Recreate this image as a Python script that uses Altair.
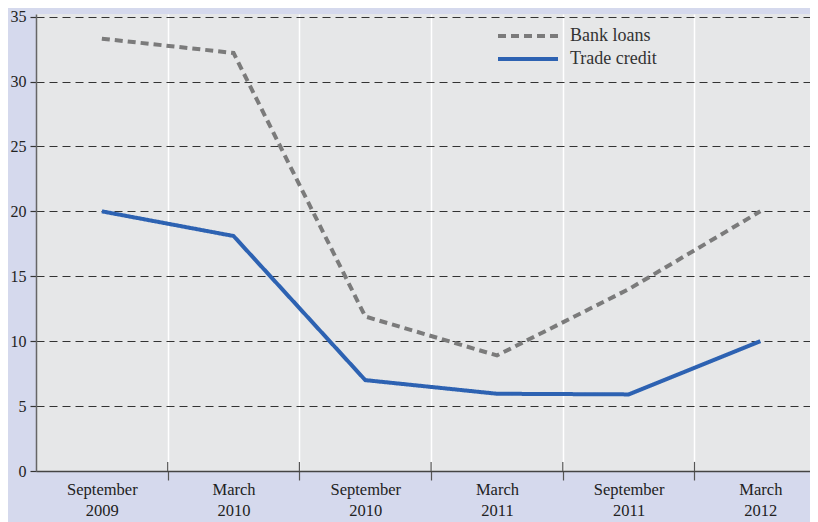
import json
import altair as alt
import pandas as pd

periods = [["September", "2009"], ["March", "2010"], ["September", "2010"],
           ["March", "2011"], ["September", "2011"], ["March", "2012"]]
bank_loans = [33.3, 32.2, 11.9, 8.9, 14.0, 20.0]
trade_credit = [20.0, 18.1, 7.0, 5.95, 5.9, 10.0]
series_names = ["Bank loans", "Trade credit"]
boundaries = [0.5, 1.5, 2.5, 3.5, 4.5]

rows = []
for name, vals in zip(series_names, [bank_loans, trade_credit]):
    for i, v in enumerate(vals):
        rows.append({"idx": i, "value": v, "series": name})
df = pd.DataFrame(rows)
bdf = pd.DataFrame({"b": boundaries, "y0": [0.0] * 5, "y1": [0.7] * 5})

FONT = "Liberation Serif"
label_expr = ("datum.value % 1 === 0 ? " + json.dumps(periods) + "[datum.value] : ''")

xscale = alt.Scale(domain=[-0.5, 5.377], nice=False, zero=False)
yscale = alt.Scale(domain=[0, 35.2], nice=False)

xaxis = alt.Axis(
    values=[0, 0.5, 1, 1.5, 2, 2.5, 3, 3.5, 4, 4.5, 5],
    labelExpr=label_expr, title=None, labelAngle=0, labelOverlap=False,
    labelFlush=False, labelFont=FONT, labelFontSize=16.5, labelColor="#222222",
    labelLineHeight=21, labelPadding=1, labelBaseline="top",
    tickSize=9, tickColor="#555555", tickWidth=1.2,
    tickOpacity={"condition": {"test": "datum.value % 1 !== 0", "value": 1}, "value": 0},
    grid=True, gridColor="#ffffff", gridWidth=1.5,
    gridOpacity={"condition": {"test": "datum.value % 1 !== 0", "value": 1}, "value": 0},
    domainColor="#444444", domainWidth=1.5,
)
yaxis = alt.Axis(
    values=[0, 5, 10, 15, 20, 25, 30, 35], title=None,
    labelFont=FONT, labelFontSize=16, labelColor="#222222", labelPadding=4,
    tickSize=6, tickColor="#333333", tickWidth=1.2,
    grid=True, gridColor="#333333", gridDash=[8, 5], gridWidth=1,
    domainColor="#666666", domainWidth=1.5,
)

legend = alt.Legend(title=None, orient="none", legendX=480, legendY=10,
                    symbolType="M-3,0H3", symbolSize=400, symbolStrokeWidth=4,
                    labelFont=FONT, labelFontSize=18, labelColor="#333333",
                    labelOffset=30, rowPadding=2)

ticks_in = alt.Chart(bdf).mark_rule(color="#555555", strokeWidth=1.2).encode(
    x=alt.X("b:Q", scale=xscale, axis=xaxis),
    y=alt.Y("y0:Q", scale=yscale, axis=yaxis),
    y2="y1:Q",
)

lines = alt.Chart(df).mark_line(strokeWidth=4).encode(
    x=alt.X("idx:Q", scale=xscale, axis=xaxis),
    y=alt.Y("value:Q", scale=yscale, axis=yaxis),
    color=alt.Color("series:N", scale=alt.Scale(domain=series_names, range=["#7b7b7b", "#2d62b2"]),
                    legend=legend),
    strokeDash=alt.StrokeDash("series:N", scale=alt.Scale(domain=series_names, range=[[8, 5], [1, 0]]),
                              legend=legend),
)

chart = alt.layer(ticks_in, lines).properties(
    width=774, height=457,
    autosize=alt.AutoSizeParams(type="none"),
    padding={"left": 28, "top": 6, "right": 0, "bottom": 51},
    background="#d5d9ed",
).configure_view(fill="#e6e7e8", stroke=None)

chart.save("out.html", embed_options={"renderer": "svg", "actions": False})
